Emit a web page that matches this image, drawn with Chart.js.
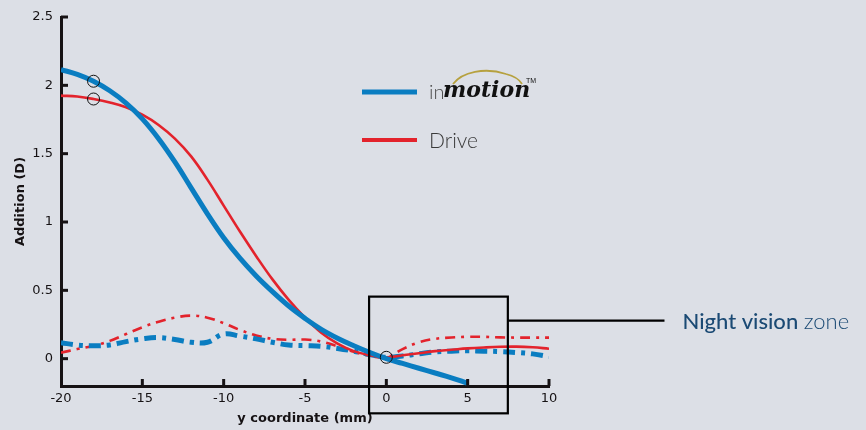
<!DOCTYPE html>
<html>
<head>
<meta charset="utf-8">
<script src="https://cdn.jsdelivr.net/npm/chart.js@4.4.1/dist/chart.umd.min.js"></script>
<style>
  html, body { margin: 0; padding: 0; background: #dcdfe6; }
  #wrap { width: 866px; height: 430px; }
</style>
</head>
<body>
<div id="wrap"><canvas id="chart" width="866" height="430"></canvas></div>
<script>
const BLUE = '#0a7dc1';
const RED = '#e3232c';
const INK = '#161214';

const X_TICKS = [-20, -15, -10, -5, 0, 5, 10];
const Y_TICKS = [0, 0.5, 1, 1.5, 2, 2.5];

// inMotion, solid
const IM_X = [-20, -19, -18, -17, -16, -15, -14, -13, -12, -11, -10, -9, -8, -7, -6, -5, -4, -3, -2, -1, 0, 1, 2, 3, 4, 5];
const IM_Y = [2.115, 2.08, 2.03, 1.96, 1.87, 1.755, 1.61, 1.44, 1.25, 1.06, 0.885, 0.735, 0.605, 0.49, 0.385, 0.295, 0.215, 0.15, 0.095, 0.045, 0.0, -0.035, -0.07, -0.105, -0.14, -0.18];

// Drive, solid
const DR_X = [-20, -19, -18, -17, -16, -15, -14, -13, -12, -11, -10, -9, -8, -7, -6, -5, -4, -3, -2, -1, 0, 1, 2, 3, 4, 5, 6, 7, 8, 9, 10];
const DR_Y = [1.925, 1.918, 1.90, 1.875, 1.84, 1.785, 1.71, 1.61, 1.48, 1.31, 1.12, 0.93, 0.75, 0.58, 0.43, 0.30, 0.19, 0.11, 0.055, 0.025, 0.01, 0.025, 0.04, 0.055, 0.065, 0.075, 0.082, 0.087, 0.088, 0.083, 0.073];

// dash-dot curves
const DD_X = [-20, -19, -18, -17, -16, -15, -14, -13, -12, -11, -10, -9, -8, -7, -6, -5, -4, -3, -2, -1, 0, 1, 2, 3, 4, 5, 6, 7, 8, 9, 10];
const DR_DD_Y = [0.044, 0.07, 0.095, 0.13, 0.18, 0.23, 0.27, 0.30, 0.315, 0.30, 0.26, 0.21, 0.17, 0.145, 0.138, 0.14, 0.125, 0.09, 0.05, 0.02, 0.01, 0.07, 0.12, 0.145, 0.155, 0.16, 0.16, 0.156, 0.154, 0.154, 0.154];
const IM_DD_Y = [0.117, 0.10, 0.095, 0.10, 0.125, 0.145, 0.154, 0.14, 0.12, 0.12, 0.18, 0.165, 0.145, 0.12, 0.10, 0.095, 0.09, 0.075, 0.055, 0.03, 0.01, 0.02, 0.035, 0.05, 0.055, 0.058, 0.055, 0.052, 0.045, 0.035, 0.015];

// reference points marked with open circles
const MARK_X = [-18, -18, 0];
const MARK_Y = [2.03, 1.90, 0.01];

// night vision zone box (data units)
const ZONE_X = [-1.06, 7.47];
const ZONE_Y = [-0.40, 0.454];
const CALLOUT_Y = 0.278;
const CALLOUT_END_X = 17.1;

const pts = (xs, ys) => xs.map((x, i) => ({ x: x, y: ys[i] }));

const decor = {
  id: 'decor',
  afterDatasetsDraw(chart) {
    const c = chart.ctx;
    const xs = chart.scales.x, ys = chart.scales.y;
    const area = chart.chartArea;
    c.save();
    c.strokeStyle = INK;
    c.lineWidth = 3;
    // inward ticks
    for (const v of Y_TICKS) {
      const py = ys.getPixelForValue(v);
      c.beginPath(); c.moveTo(area.left, py); c.lineTo(area.left + 7, py); c.stroke();
    }
    for (const v of X_TICKS.slice(1)) {
      const px = xs.getPixelForValue(v);
      c.beginPath(); c.moveTo(px, area.bottom); c.lineTo(px, area.bottom - 7); c.stroke();
    }

    // zone box + callout
    c.lineWidth = 2.2;
    c.strokeStyle = '#000';
    const bx0 = xs.getPixelForValue(ZONE_X[0]), bx1 = xs.getPixelForValue(ZONE_X[1]);
    const by0 = ys.getPixelForValue(ZONE_Y[1]), by1 = ys.getPixelForValue(ZONE_Y[0]);
    c.strokeRect(bx0, by0, bx1 - bx0, by1 - by0);
    const cy = ys.getPixelForValue(CALLOUT_Y);
    c.beginPath(); c.moveTo(bx1, cy); c.lineTo(xs.getPixelForValue(CALLOUT_END_X), cy); c.stroke();

    c.textBaseline = 'middle';
    c.fillStyle = '#1b4a74';
    c.font = '500 22px Lato, "Open Sans", sans-serif';
    const tx = xs.getPixelForValue(CALLOUT_END_X) + 18;
    c.fillText('Night vision', tx, cy + 1);
    const w = c.measureText('Night vision ').width;
    c.font = '300 22px Lato, "Open Sans", sans-serif';
    c.fillText('zone', tx + w, cy + 1);

    // legend
    const lx = 362, ly1 = 92, ly2 = 140;
    c.lineWidth = 5; c.strokeStyle = BLUE;
    c.beginPath(); c.moveTo(lx, ly1); c.lineTo(lx + 55, ly1); c.stroke();
    c.lineWidth = 4; c.strokeStyle = RED;
    c.beginPath(); c.moveTo(lx, ly2); c.lineTo(lx + 55, ly2); c.stroke();

    c.fillStyle = '#4a4a4a';
    c.font = '300 20px Lato, "Open Sans", sans-serif';
    c.fillText('in', 429, ly1 + 1);
    c.fillStyle = '#111';
    c.font = 'italic bold 22px "DejaVu Serif", serif';
    c.fillText('motion', 443, ly1 - 1);
    c.font = '7px sans-serif';
    c.fillText('TM', 526, 81);
    // gold car roof line of the logo
    c.strokeStyle = '#b6a13f'; c.lineWidth = 1.8;
    c.beginPath();
    c.moveTo(453, 84);
    c.bezierCurveTo(462, 72, 485, 67, 506, 74);
    c.quadraticCurveTo(518, 77, 522, 84);
    c.stroke();

    c.fillStyle = '#3a3a3a';
    c.font = '300 21px Lato, "Open Sans", sans-serif';
    c.fillText('Drive', 429, ly2 + 1);
    c.restore();
  }
};

new Chart(document.getElementById('chart'), {
  type: 'line',
  data: {
    datasets: [
      { label: 'marks', data: pts(MARK_X, MARK_Y), showLine: false, pointRadius: 6, pointBorderWidth: 1,
        pointBorderColor: '#111', pointBackgroundColor: 'rgba(0,0,0,0)', order: 0 },
      { label: 'inMotion', data: pts(IM_X, IM_Y), borderColor: BLUE, borderWidth: 5, pointRadius: 0,
        tension: 0.4, order: 1 },
      { label: 'Drive', data: pts(DR_X, DR_Y), borderColor: RED, borderWidth: 2.6, pointRadius: 0,
        tension: 0.4, order: 2 },
      { label: 'inMotion dd', data: pts(DD_X, IM_DD_Y), borderColor: BLUE, borderWidth: 5, pointRadius: 0,
        tension: 0.4, borderDash: [12, 6, 4, 6], borderCapStyle: 'butt', order: 3 },
      { label: 'Drive dd', data: pts(DD_X, DR_DD_Y), borderColor: RED, borderWidth: 2.6, pointRadius: 0,
        tension: 0.4, borderDash: [10, 6, 3, 6], order: 4 }
    ]
  },
  options: {
    responsive: false,
    animation: false,
    layout: { padding: { left: 0, top: 17, right: 317, bottom: 0 } },
    plugins: { legend: { display: false }, tooltip: { enabled: false } },
    scales: {
      x: {
        type: 'linear', min: -20, max: 10,
        afterBuildTicks: s => { s.ticks = X_TICKS.map(v => ({ value: v })); },
        afterFit: s => { s.height = 44; },
        grid: { display: false, drawTicks: false },
        border: { display: true, color: INK, width: 3 },
        ticks: { color: INK, padding: 5, callback: v => String(v),
          font: { family: 'DejaVu Sans', size: 13 } },
        title: { display: true, text: 'y coordinate (mm)', color: INK, padding: { top: 0, bottom: 4 },
          font: { family: 'DejaVu Sans', size: 13, weight: '600' } }
      },
      y: {
        min: -0.2, max: 2.5,
        afterBuildTicks: s => { s.ticks = Y_TICKS.map(v => ({ value: v })); },
        afterFit: s => { s.width = 61; },
        grid: { display: false, drawTicks: false },
        border: { display: true, color: INK, width: 3 },
        ticks: { color: INK, padding: 8, callback: v => String(v),
          font: { family: 'DejaVu Sans', size: 13 } },
        title: { display: true, text: 'Addition (D)', color: INK, padding: { top: 13, bottom: 0 },
          font: { family: 'DejaVu Sans', size: 13, weight: '600' } }
      }
    }
  },
  plugins: [decor]
});
</script>
</body>
</html>
